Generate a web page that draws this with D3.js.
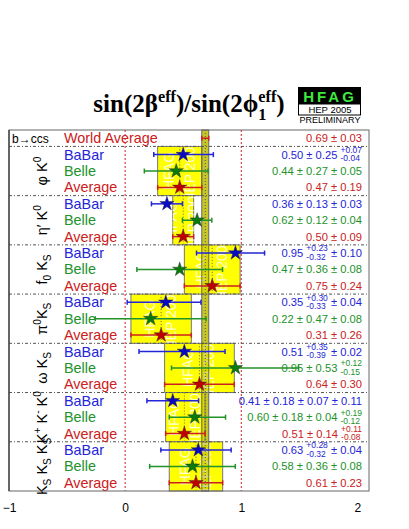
<!DOCTYPE html>
<html>
<head>
<meta charset="utf-8">
<script src="https://cdn.jsdelivr.net/npm/d3@7"></script>
<style>
  body { margin: 0; background: #fff; }
  svg { display: block; }
</style>
</head>
<body>
<svg id="chart" width="409" height="529"></svg>
<script>
var SP = "\u00a0";

// modes, top to bottom
var groupLabels = [
	[{t: "\u03c6" + SP + "K"}, {sup: "0"}],
	[{t: "\u03b7\u2032" + SP + "K"}, {sup: "0"}],
	[{t: "f"}, {sub: "0"}, {t: SP + "K"}, {sub: "S"}],
	[{t: "\u03c0"}, {sup: "0"}, {t: "K"}, {sub: "S"}],
	[{t: "\u03c9" + SP + "K"}, {sub: "S"}],
	[{t: "K"}, {sup: "+"}, {t: SP + "K"}, {sup: "-"}, {t: SP + "K"}, {sup: "0"}],
	[{t: "K"}, {sub: "S"}, {t: SP + "K"}, {sub: "S"}, {t: SP + "K"}, {sub: "S"}]
];
var experiments = ["BaBar", "Belle", "Average"];

// central values; errors are listed as quoted: number = symmetric, [up, down] = asymmetric
var babarValues = [0.50, 0.36, 0.95, 0.35, 0.51, 0.41, 0.63];
var babarErrors = [[0.25, [0.07, 0.04]], [0.13, 0.03], [[0.23, 0.32], 0.10], [[0.30, 0.33], 0.04],
	[[0.35, 0.39], 0.02], [0.18, 0.07, 0.11], [[0.28, 0.32], 0.04]];

var belleValues = [0.44, 0.62, 0.47, 0.22, 0.95, 0.60, 0.58];
var belleErrors = [[0.27, 0.05], [0.12, 0.04], [0.36, 0.08], [0.47, 0.08],
	[0.53, [0.12, 0.15]], [0.18, 0.04, [0.19, 0.12]], [0.36, 0.08]];

var averageValues = [0.47, 0.50, 0.75, 0.31, 0.64, 0.51, 0.61];
var averageErrors = [[0.19], [0.09], [0.24], [0.26], [0.30], [0.14, [0.11, 0.08]], [0.23]];

var worldAverage = 0.69;
var worldAverageError = [0.03];

var xTicks = [-1, 0, 1, 2];

var colors = {BaBar: "#2424d8", Belle: "#22922a", Average: "#cc2020"};
var starColors = {BaBar: "#0a0ac0", Belle: "#0a7a0a", Average: "#c00000"};

var svg = d3.select("#chart");
var pLeft = 9, pRight = 369, pTop = 130, pBottom = 491;

var x = d3.scaleLinear().domain([-1, 2.1]).range([pLeft, pRight]);

var rowNames = ["world"];
groupLabels.forEach(function(g, gi) {
	experiments.forEach(function(e) { rowNames.push(gi + "-" + e); });
});
var y = d3.scaleBand().domain(rowNames).range([pTop, pBottom]);
function rowMid(name) { return y(name) + y.bandwidth() / 2; }

function totalErr(comps) {
	var up = 0, dn = 0;
	comps.forEach(function(c) {
		if (Array.isArray(c)) { up += c[0] * c[0]; dn += c[1] * c[1]; }
		else { up += c * c; dn += c * c; }
	});
	return [Math.sqrt(up), Math.sqrt(dn)];
}

// lays out text pieces from left to right, measuring as it goes
function rich(sel, parts, size, stackScale) {
	var g = sel.append("g");
	var cx = 0;
	stackScale = stackScale || 0.65;
	parts.forEach(function(p) {
		if (p.t != null) {
			var t = g.append("text").attr("x", cx).attr("y", 0).attr("font-size", size).text(p.t);
			cx += t.node().getComputedTextLength();
		} else {
			var up = p.stack ? p.stack[0] : p.sup;
			var dn = p.stack ? p.stack[1] : p.sub;
			var w = 0;
			if (up != null) {
				var tu = g.append("text").attr("x", cx).attr("y", -size * (p.upOff || 0.42))
					.attr("font-size", size * stackScale).text(up);
				w = Math.max(w, tu.node().getComputedTextLength());
			}
			if (dn != null) {
				var td = g.append("text").attr("x", cx).attr("y", size * (p.dnOff || 0.28))
					.attr("font-size", size * stackScale).text(dn);
				w = Math.max(w, td.node().getComputedTextLength());
			}
			cx += w;
		}
	});
	return {g: g, width: cx};
}

function valueParts(v, comps) {
	var parts = [];
	var s = v.toFixed(2);
	comps.forEach(function(c) {
		if (Array.isArray(c)) {
			parts.push({t: s + SP});
			parts.push({stack: ["+" + c[0].toFixed(2), "-" + c[1].toFixed(2)], upOff: 0.5, dnOff: 0.25});
			s = "";
		} else {
			s += SP + "\u00b1" + SP + c.toFixed(2);
		}
	});
	if (s) parts.push({t: s});
	return parts;
}

// ---- title and logo ----
var title = rich(svg.append("g").attr("font-family", "Liberation Serif").attr("font-weight", "bold").attr("fill", "#000"),
	[{t: "sin(2\u03b2"}, {sup: "eff"}, {t: ")/sin(2\u03d5"}, {stack: ["eff", "1"], upOff: 0.42, dnOff: 0.3}, {t: ")"}], 25);
title.g.attr("transform", "translate(" + (189 - title.width / 2) + ",112)");

var logo = svg.append("g").attr("font-family", "Liberation Sans");
logo.append("rect").attr("x", 298).attr("y", 87).attr("width", 63).attr("height", 17).attr("fill", "#000");
logo.append("text").attr("x", 330).attr("y", 101.5).attr("text-anchor", "middle")
	.attr("font-size", 15).attr("font-weight", "bold").attr("letter-spacing", 3)
	.attr("fill", "#3ee83e").text("HFAG");
logo.append("rect").attr("x", 298.5).attr("y", 104).attr("width", 62).attr("height", 11)
	.attr("fill", "#fff").attr("stroke", "#000").attr("stroke-width", 1);
logo.append("text").attr("x", 330).attr("y", 113).attr("text-anchor", "middle")
	.attr("font-size", 9.5).attr("fill", "#000").text("HEP 2005");
logo.append("text").attr("x", 330).attr("y", 123).attr("text-anchor", "middle")
	.attr("font-size", 9).attr("fill", "#000").text("PRELIMINARY");

// ---- plot ----
var plot = svg.append("g");
var defs = svg.append("defs");

// world average band base
var wErr = totalErr(worldAverageError);
plot.append("rect")
	.attr("x", x(worldAverage - wErr[1])).attr("y", pTop)
	.attr("width", x(worldAverage + wErr[0]) - x(worldAverage - wErr[1]))
	.attr("height", pBottom - pTop)
	.attr("fill", "#e6e640");

// per-mode average boxes
groupLabels.forEach(function(lab, gi) {
	var e = totalErr(averageErrors[gi]);
	var x0 = x(averageValues[gi] - e[1]), x1 = x(averageValues[gi] + e[0]);
	var y0 = y(gi + "-BaBar"), y1 = y(gi + "-Average") + y.bandwidth();
	plot.append("rect").attr("x", x0).attr("y", y0).attr("width", x1 - x0).attr("height", y1 - y0)
		.attr("fill", "#ffff00").attr("stroke", "#777").attr("stroke-width", 1);
	defs.append("clipPath").attr("id", "clip" + gi)
		.append("rect").attr("x", x0).attr("y", y0).attr("width", x1 - x0).attr("height", y1 - y0);
	var cx = (x0 + x1) / 2, cy = (y0 + y1) / 2;
	var tg = plot.append("g").attr("clip-path", "url(#clip" + gi + ")")
		.attr("font-family", "Liberation Sans").attr("font-size", 14).attr("fill", "#fffff0").attr("opacity", 0.9);
	tg.append("text").attr("transform", "translate(" + (cx - 6) + "," + cy + ") rotate(-90)")
		.attr("text-anchor", "middle").text("HFAG");
	tg.append("text").attr("transform", "translate(" + (cx + 15) + "," + cy + ") rotate(-90)")
		.attr("text-anchor", "middle").text("HEP 2005");
	plot.append("line").attr("x1", x(averageValues[gi])).attr("x2", x(averageValues[gi]))
		.attr("y1", y0).attr("y2", y1).attr("stroke", "#666").attr("stroke-width", 1)
		.attr("stroke-dasharray", "1,2");
});

// world average band overlay
plot.append("rect")
	.attr("x", x(worldAverage - wErr[1])).attr("y", pTop)
	.attr("width", x(worldAverage + wErr[0]) - x(worldAverage - wErr[1]))
	.attr("height", pBottom - pTop)
	.attr("fill", "#8a8a00").attr("fill-opacity", 0.35)
	.attr("stroke", "#666").attr("stroke-width", 1);
plot.append("line").attr("x1", x(worldAverage)).attr("x2", x(worldAverage))
	.attr("y1", pTop).attr("y2", pBottom).attr("stroke", "#555").attr("stroke-dasharray", "1,2");

// reference lines at 0 and 1
plot.selectAll(".ref").data([0, 1]).enter().append("line")
	.attr("x1", function(d) { return x(d); }).attr("x2", function(d) { return x(d); })
	.attr("y1", pTop).attr("y2", pBottom)
	.attr("stroke", "#d02020").attr("stroke-width", 1).attr("stroke-dasharray", "2,2");

// separators
var seps = [];
groupLabels.forEach(function(l, gi) { seps.push(y(gi + "-BaBar")); });
plot.selectAll(".sep").data(seps).enter().append("line")
	.attr("x1", pLeft).attr("x2", pRight).attr("y1", function(d) { return d; }).attr("y2", function(d) { return d; })
	.attr("stroke", "#555").attr("stroke-width", 1).attr("stroke-dasharray", "3,2,1,2");

// measurements
var rows = [{row: "world", exp: "Average", v: worldAverage, comps: worldAverageError, star: false}];
groupLabels.forEach(function(l, gi) {
	rows.push({row: gi + "-BaBar", exp: "BaBar", v: babarValues[gi], comps: babarErrors[gi], star: true});
	rows.push({row: gi + "-Belle", exp: "Belle", v: belleValues[gi], comps: belleErrors[gi], star: true});
	rows.push({row: gi + "-Average", exp: "Average", v: averageValues[gi], comps: averageErrors[gi], star: true});
});

var star = d3.symbol().type(d3.symbolStar).size(64);
rows.forEach(function(r) {
	var e = totalErr(r.comps);
	var ym = rowMid(r.row);
	var xa = x(r.v - e[1]), xb = x(r.v + e[0]);
	var c = colors[r.exp];
	plot.append("line").attr("x1", xa).attr("x2", xb).attr("y1", ym).attr("y2", ym)
		.attr("stroke", c).attr("stroke-width", 1.5);
	[xa, xb].forEach(function(xe) {
		plot.append("line").attr("x1", xe).attr("x2", xe).attr("y1", ym - 2.5).attr("y2", ym + 2.5)
			.attr("stroke", c).attr("stroke-width", 1.5);
	});
	if (r.star) {
		plot.append("path").attr("d", star)
			.attr("transform", "translate(" + x(r.v) + "," + ym + ")")
			.attr("fill", starColors[r.exp]).attr("stroke", "#222").attr("stroke-width", 0.4);
	}
	// value text, right aligned
	var vt = rich(plot.append("g").attr("font-family", "Liberation Sans").attr("fill", c),
		valueParts(r.v, r.comps), 11.2, 0.76);
	vt.g.attr("transform", "translate(" + (362 - vt.width) + "," + (ym + 4) + ")");
	// name
	plot.append("text").attr("x", 64).attr("y", ym + 5)
		.attr("font-family", "Liberation Sans").attr("font-size", 14.4).attr("fill", c)
		.text(r.row == "world" ? "World Average" : r.exp);
});

plot.append("text").attr("x", 12).attr("y", rowMid("world") + 4.5)
	.attr("font-family", "Liberation Sans").attr("font-size", 12).attr("fill", "#000")
	.text("b\u2192ccs");

// mode labels, rotated
groupLabels.forEach(function(lab, gi) {
	var cy = (y(gi + "-BaBar") + y(gi + "-Average") + y.bandwidth()) / 2;
	var holder = plot.append("g").attr("font-family", "Liberation Sans").attr("fill", "#000");
	var t = rich(holder, lab, 14.5, 0.7);
	holder.attr("transform", "translate(47," + cy + ") rotate(-90)");
	t.g.attr("transform", "translate(" + (-t.width / 2) + ",0)");
});

// frame
plot.append("rect").attr("x", pLeft).attr("y", pTop).attr("width", pRight - pLeft).attr("height", pBottom - pTop)
	.attr("fill", "none").attr("stroke", "#666").attr("stroke-width", 1);
plot.append("line").attr("x1", pLeft).attr("x2", pLeft).attr("y1", pTop).attr("y2", pBottom)
	.attr("stroke", "#333").attr("stroke-width", 1.2);

// x axis
var axis = svg.append("g").attr("transform", "translate(0," + pBottom + ")")
	.call(d3.axisBottom(x).tickValues(xTicks).tickSize(0).tickPadding(12).tickFormat(d3.format("d")));
axis.select(".domain").remove();
axis.selectAll("text").attr("font-family", "Liberation Sans").attr("font-size", 12).attr("fill", "#000");
</script>
</body>
</html>
